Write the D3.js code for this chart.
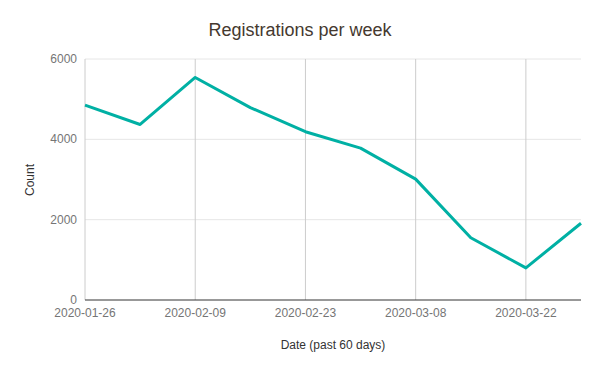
<html>
<head>
<meta charset="utf-8">
<title>Registrations per week</title>
<style>
body { margin: 0; background: #fff; font-family: "Liberation Sans", Arial, sans-serif; }
</style>
</head>
<body>
<div id="vis"></div>
<script src="https://d3js.org/d3.v7.min.js"></script>
<script>
// weekly registrations
var weeks = ["2020-01-26","2020-02-02","2020-02-09","2020-02-16","2020-02-23",
             "2020-03-01","2020-03-08","2020-03-15","2020-03-22","2020-03-29"];
var counts = [4850, 4370, 5540, 4790, 4190, 3780, 3010, 1550, 800, 1910];
var tickDates = ["2020-01-26","2020-02-09","2020-02-23","2020-03-08","2020-03-22"];
var yTicks = [0, 2000, 4000, 6000];

var W = 600, H = 371;
var m = {left: 85, right: 19, top: 59, bottom: 71};
var parse = d3.timeParse("%Y-%m-%d"), fmt = d3.timeFormat("%Y-%m-%d");
var data = weeks.map(function(d, i) { return {date: parse(d), v: counts[i]}; });

var x = d3.scaleTime()
    .domain(d3.extent(data, function(d) { return d.date; }))
    .range([m.left, W - m.right]);
var y = d3.scaleLinear().domain([0, 6000]).range([H - m.bottom, m.top]);

var svg = d3.select("#vis").append("svg").attr("width", W).attr("height", H);

// horizontal gridlines
svg.append("g").selectAll("line").data(yTicks.slice(1)).enter().append("line")
    .attr("x1", m.left).attr("x2", W - m.right)
    .attr("y1", function(d) { return y(d); }).attr("y2", function(d) { return y(d); })
    .attr("stroke", "#e6e6e6");

// vertical gridlines
svg.append("g").selectAll("line").data(tickDates).enter().append("line")
    .attr("x1", function(d) { return x(parse(d)); }).attr("x2", function(d) { return x(parse(d)); })
    .attr("y1", m.top).attr("y2", H - m.bottom)
    .attr("stroke", "#cccccc");

// y labels
svg.append("g").selectAll("text").data(yTicks).enter().append("text")
    .attr("x", m.left - 8).attr("y", function(d) { return y(d) + 4; })
    .attr("text-anchor", "end").attr("font-size", 12).attr("fill", "#757575")
    .text(function(d) { return d; });

// x labels
svg.append("g").selectAll("text").data(tickDates).enter().append("text")
    .attr("x", function(d) { return x(parse(d)); }).attr("y", H - m.bottom + 17)
    .attr("text-anchor", "middle").attr("font-size", 12).attr("fill", "#757575")
    .text(function(d) { return fmt(parse(d)); });

// baseline
svg.append("line")
    .attr("x1", m.left).attr("x2", W - m.right)
    .attr("y1", y(0)).attr("y2", y(0))
    .attr("stroke", "#333").attr("stroke-width", 1);

// line
var line = d3.line()
    .x(function(d) { return x(d.date); })
    .y(function(d) { return y(d.v); });
svg.append("path").datum(data)
    .attr("d", line)
    .attr("fill", "none").attr("stroke", "#00b0a4").attr("stroke-width", 3)
    .attr("stroke-linejoin", "round");

// titles
svg.append("text").attr("x", 300).attr("y", 36).attr("text-anchor", "middle")
    .attr("font-size", 18).attr("fill", "#45392f").text("Registrations per week");
svg.append("text").attr("x", 333).attr("y", 349).attr("text-anchor", "middle")
    .attr("font-size", 12).attr("fill", "#333").text("Date (past 60 days)");
svg.append("text").attr("transform", "translate(34,180) rotate(-90)").attr("text-anchor", "middle")
    .attr("font-size", 12).attr("fill", "#333").text("Count");
</script>
</body>
</html>
